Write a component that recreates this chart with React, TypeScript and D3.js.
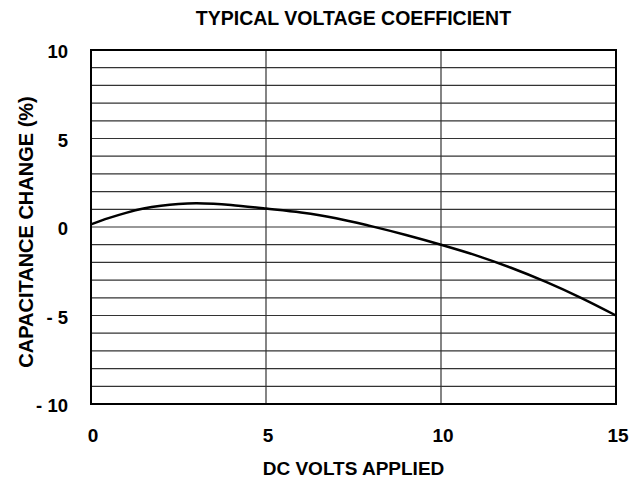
import React from "react";
import * as d3 from "d3";

const xTicks = [0, 5, 10, 15];
const yTicks = [10, 5, 0, -5, -10];
const yTickLabels = ["10", "5", "0", "- 5", "- 10"];
const hLines = d3.range(-10, 11, 1);

// DC volts vs capacitance change (%)
const volts = [0, 0.5, 1, 1.5, 2, 2.5, 3, 3.5, 4, 5, 6, 7, 8, 9, 10, 11, 12, 13, 14, 15];
const change = [0.15, 0.5, 0.8, 1.04, 1.2, 1.3, 1.34, 1.31, 1.24, 1.04, 0.82, 0.5, 0.05, -0.45, -1.0, -1.6, -2.3, -3.1, -4.0, -5.0];

export default function App() {
  const width = 631, height = 485;
  const left = 91, right = 616, top = 50, bottom = 404;
  const x = d3.scaleLinear().domain([0, 15]).range([left, right]);
  const y = d3.scaleLinear().domain([-10, 10]).range([bottom, top]);
  const line = d3.line<number>()
    .x((d, i) => x(volts[i]))
    .y(d => y(d))
    .curve(d3.curveCatmullRom);
  const font = "Arial, 'Liberation Sans', Helvetica, sans-serif";

  return (
    <svg width={width} height={height} style={{ position: "absolute", left: 0, top: 0, background: "#fff" }} fontFamily={font} fontWeight="bold">
      <text x={(left + right) / 2} y={25} textAnchor="middle" fontSize={19.5}>TYPICAL VOLTAGE COEFFICIENT</text>
      {hLines.map(v => (
        <line key={v} x1={left} x2={right} y1={y(v)} y2={y(v)} stroke="#333" strokeWidth={1.2} />
      ))}
      {[5, 10].map(v => (
        <line key={v} x1={x(v)} x2={x(v)} y1={top} y2={bottom} stroke="#333" strokeWidth={1.2} />
      ))}
      <rect x={left} y={top} width={right - left} height={bottom - top} fill="none" stroke="#000" strokeWidth={2} />
      <path d={line(change) || ""} fill="none" stroke="#000" strokeWidth={2.5} />
      {yTicks.map((v, i) => (
        <text key={v} x={68} y={y(v) + 8} textAnchor="end" fontSize={18.5}>{yTickLabels[i]}</text>
      ))}
      {xTicks.map(v => (
        <text key={v} x={x(v) + 2} y={442} textAnchor="middle" fontSize={19}>{v}</text>
      ))}
      <text x={(left + right) / 2} y={475} textAnchor="middle" fontSize={19}>DC VOLTS APPLIED</text>
      <text transform={`translate(33, ${232}) rotate(-90)`} textAnchor="middle" fontSize={20}>CAPACITANCE CHANGE (%)</text>
    </svg>
  );
}
